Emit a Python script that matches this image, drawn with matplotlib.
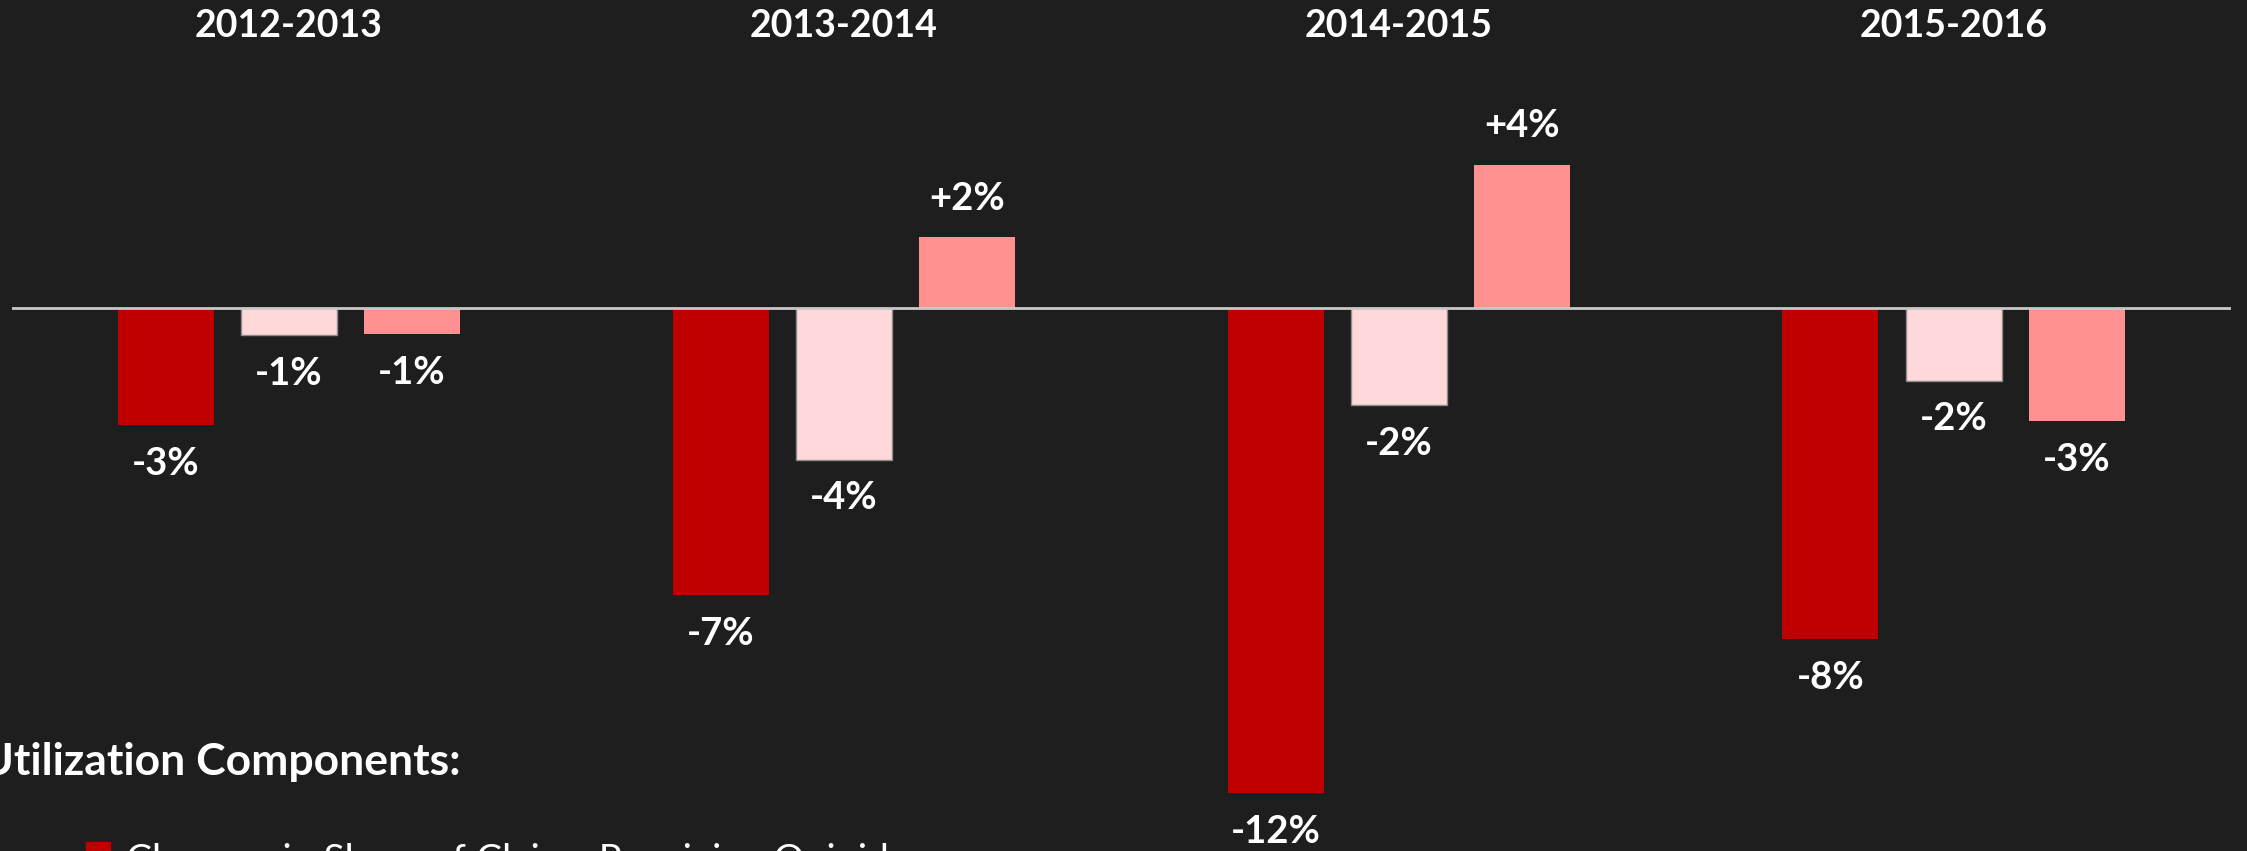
import matplotlib
matplotlib.use("Agg")
import matplotlib.pyplot as plt
import numpy as np

# data (percent change)
periods = ["2012-2013", "2013-2014", "2014-2015", "2015-2016"]
share_receiving = [-2.9, -7.1, -12.0, -8.2]
second_component = [-0.68, -3.75, -2.4, -1.8]
third_component = [-0.64, 1.75, 3.55, -2.8]

bar_colors = ["#C00000", "#FFD9D9", "#FF9191"]
bg = "#1E1E1E"

plt.rcParams["font.family"] = ["Lato", "DejaVu Sans"]

W, H = 2247, 851
fig = plt.figure(figsize=(W / 100, H / 100), dpi=100, facecolor=bg)
ax = fig.add_axes([11.5 / W, 0, (2231 - 11.5) / W, 1])
ax.set_facecolor(bg)

x = np.arange(len(periods))
width = 0.173
step = 0.222
series = [share_receiving, second_component, third_component]

for k, vals in enumerate(series):
    pos = x + (k - 1) * step
    edge = "#8C8C8C" if k == 1 else bar_colors[k]
    ax.bar(pos, vals, width=width, color=bar_colors[k],
           edgecolor=edge, linewidth=1.0 if k == 1 else 0, zorder=2)
    for px, v in zip(pos, vals):
        off = 27.9 if v > 0 else -27.9
        ax.annotate(f"{int(round(v)):+d}%", (px, v),
                    xytext=(0, off), textcoords="offset points",
                    ha="center", va="center", color="white",
                    fontsize=27.5, fontweight="bold")

ax.axhline(0, color="#C8C8C8", linewidth=2, zorder=3)

# group headers
for i, p in enumerate(periods):
    ax.annotate(p, (i, 1 - 26 / H), xycoords=("data", "figure fraction"),
                ha="center", va="center", color="white",
                fontsize=27, fontweight="bold")

ax.set_xlim(-0.5, 3.5)
zero_px = 308
ppp = 40.4
ax.set_ylim(-(H - zero_px) / ppp, zero_px / ppp)
ax.axis("off")

# legend block, cut off by the canvas edges as in the source
fig.text(461 / W, 1 - 762 / H, "Utilization Components:", ha="right",
         va="center", color="white", fontsize=32, fontweight="bold")
fig.text(126 / W, 1 - 843 / H, "Changes in Share of Claims Receiving Opioids",
         ha="left", va="top", color="white", fontsize=28)
fig.patches.append(plt.Rectangle((86 / W, 1 - 866 / H), 24 / W, 24 / H,
                                 transform=fig.transFigure,
                                 color="#C00000", figure=fig))

fig.savefig("out.png", dpi=100, facecolor=bg)
